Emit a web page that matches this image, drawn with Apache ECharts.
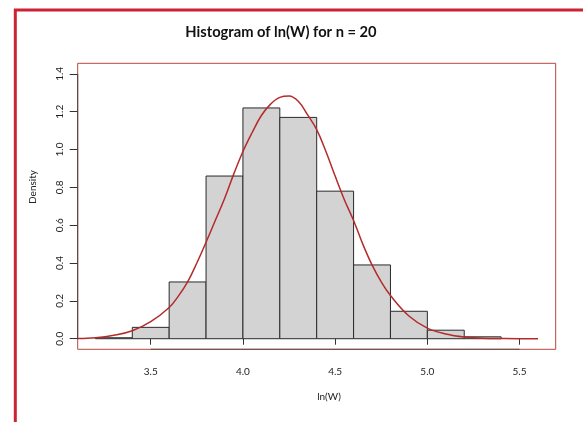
<!DOCTYPE html>
<html>
<head>
<meta charset="utf-8">
<script src="https://cdn.jsdelivr.net/npm/echarts@6/dist/echarts.min.js"></script>
<style>
  html, body { margin: 0; padding: 0; background: #fff; }
  #chart { width: 583px; height: 422px; }
</style>
</head>
<body>
<div id="chart"></div>
<script>
// Histogram of ln(W), bin width 0.2
const binStarts = [3.2, 3.4, 3.6, 3.8, 4.0, 4.2, 4.4, 4.6, 4.8, 5.0, 5.2];
const binWidth = 0.2;
const densities = [0.005, 0.06, 0.30, 0.86, 1.22, 1.17, 0.78, 0.39, 0.145, 0.045, 0.01];

// Fitted density curve
const curveX = [3.104, 3.2, 3.3, 3.4, 3.5, 3.6, 3.65, 3.7, 3.75, 3.8, 3.85, 3.9, 3.95, 4.0, 4.05, 4.1, 4.15, 4.2, 4.25, 4.3, 4.35, 4.4, 4.45, 4.5, 4.55, 4.6, 4.65, 4.7, 4.75, 4.8, 4.9, 5.0, 5.1, 5.2, 5.3, 5.4, 5.5, 5.6];
const curveY = [0.001, 0.005, 0.018, 0.042, 0.09, 0.165, 0.225, 0.30, 0.40, 0.51, 0.625, 0.74, 0.87, 0.99, 1.09, 1.18, 1.24, 1.276, 1.283, 1.255, 1.185, 1.105, 0.99, 0.86, 0.735, 0.625, 0.50, 0.39, 0.30, 0.228, 0.12, 0.056, 0.025, 0.009, 0.003, 0.001, 0, 0];

// Axis ticks
const xTicks = [3.5, 4.0, 4.5, 5.0, 5.5];
const yTicks = [0, 0.2, 0.4, 0.6, 0.8, 1.0, 1.2, 1.4];
const xRange = [3.104, 5.696];
const yRange = [-0.056, 1.456];

const FONT = 'Lato, "Open Sans", sans-serif';
const chart = echarts.init(document.getElementById('chart'));

const barData = binStarts.map((s, i) => [s, s + binWidth, densities[i]]);

chart.setOption({
  animation: false,
  backgroundColor: '#fff',
  grid: {
    left: 77.7, top: 63.3, right: 27.3, bottom: 72.7,
    show: true, borderColor: '#b8453f', borderWidth: 1, backgroundColor: 'transparent'
  },
  xAxis: {
    type: 'value', min: xRange[0], max: xRange[1],
    axisLine: { show: false },
    splitLine: { show: false },
    axisTick: { show: true, length: 6, customValues: xTicks, lineStyle: { color: '#333' } },
    axisLabel: {
      customValues: xTicks, margin: 17, color: '#222', fontFamily: FONT, fontSize: 10,
      formatter: v => v.toFixed(1)
    }
  },
  yAxis: {
    type: 'value', min: yRange[0], max: yRange[1],
    axisLine: { show: false },
    splitLine: { show: false },
    axisTick: { show: true, length: 8, customValues: yTicks, lineStyle: { color: '#333' } },
    axisLabel: {
      customValues: yTicks, rotate: 90, margin: 13, color: '#222', fontFamily: FONT, fontSize: 10,
      formatter: v => v.toFixed(1)
    }
  },
  graphic: [
    { type: 'polyline', silent: true,
      shape: { points: [[15.3, 422], [15.3, 10], [583, 10]] },
      style: { stroke: '#cc2233', lineWidth: 3, fill: null } },
    { type: 'text', silent: true, x: 281, y: 32,
      style: { text: 'Histogram of ln(W) for n = 20', fontFamily: FONT, fontWeight: 'bold', fontSize: 14.7,
               fill: '#111', align: 'center', verticalAlign: 'middle' } },
    { type: 'text', silent: true, x: 329, y: 397,
      style: { text: 'ln(W)', fontFamily: FONT, fontSize: 10, fill: '#222', align: 'center', verticalAlign: 'middle' } },
    { type: 'text', silent: true, x: 33, y: 187, rotation: Math.PI / 2,
      style: { text: 'Density', fontFamily: FONT, fontSize: 10, fill: '#222', align: 'center', verticalAlign: 'middle' } }
  ],
  series: [
    {
      type: 'custom',
      data: barData,
      renderItem: (params, api) => {
        const p0 = api.coord([api.value(0), 0]);
        const p1 = api.coord([api.value(1), api.value(2)]);
        return {
          type: 'rect',
          shape: { x: p0[0], y: p1[1], width: p1[0] - p0[0], height: p0[1] - p1[1] },
          style: { fill: '#d3d3d3', stroke: '#2a2a2a', lineWidth: 1 }
        };
      },
      z: 2
    },
    {
      type: 'line',
      data: curveX.map((x, i) => [x, curveY[i]]),
      smooth: 0.4,
      symbol: 'none',
      lineStyle: { color: '#b52a2a', width: 1.5 },
      z: 3
    },
    {
      // x axis line spanning the first to last tick
      type: 'line', symbol: 'none', silent: true,
      data: [[xTicks[0], yRange[0]], [xTicks[xTicks.length - 1], yRange[0]]],
      lineStyle: { color: '#444', width: 1 }, z: 4
    },
    {
      // y axis line spanning the first to last tick
      type: 'line', symbol: 'none', silent: true,
      data: [[xRange[0], yTicks[0]], [xRange[0], yTicks[yTicks.length - 1]]],
      lineStyle: { color: '#444', width: 1 }, z: 4
    }
  ]
});
</script>
</body>
</html>
